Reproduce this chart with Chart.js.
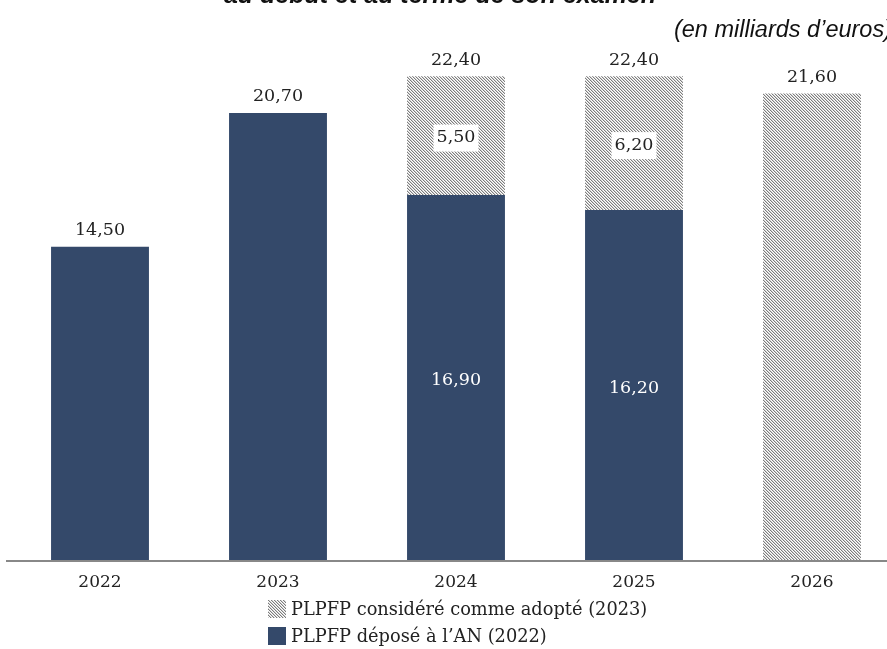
<!DOCTYPE html>
<html>
<head>
<meta charset="utf-8">
<script src="https://cdn.jsdelivr.net/npm/chart.js@4.4.1/dist/chart.umd.min.js"></script>
<style>
  html, body { margin: 0; padding: 0; background: #fff; overflow: hidden; width: 887px; height: 649px; }
  #wrap { position: relative; width: 887px; height: 649px; overflow: hidden; }
  #legende { position: absolute; left: 268px; top: 595px; font-family: "DejaVu Serif", "Liberation Serif", serif; font-size: 17.8px; color: #222; }
  .item { display: flex; align-items: center; height: 27px; }
  .carre { width: 18px; height: 18px; margin-right: 5px; }
</style>
</head>
<body>
<div id="wrap">
  <canvas id="graphique" width="910" height="649"></canvas>
  <div id="legende">
    <div class="item"><canvas class="carre" id="carreHachure" width="18" height="18"></canvas>PLPFP considéré comme adopté (2023)</div>
    <div class="item"><div class="carre" style="background:#34496a"></div>PLPFP déposé à l’AN (2022)</div>
  </div>
</div>
<script>
// Données
const annees = ['2022', '2023', '2024', '2025', '2026'];
const plpfp2022 = [14.50, 20.70, 16.90, 16.20, null];
const plpfp2023 = [null, null, 5.50, 6.20, 21.60];
const totaux = [14.50, 20.70, 22.40, 22.40, 21.60];

const couleurBleu = '#34496a';
const policeSerif = '"DejaVu Serif", "Liberation Serif", serif';

function creerHachure() {
    const c = document.createElement('canvas');
    c.width = 3; c.height = 3;
    const g = c.getContext('2d');
    const img = g.createImageData(3, 3);
    for (let y = 0; y < 3; y++) {
        for (let x = 0; x < 3; x++) {
            const k = ((x - y) % 3 + 3) % 3;
            const v = k === 0 ? 125 : (k === 1 ? 210 : 255);
            const i = (y * 3 + x) * 4;
            img.data[i] = v; img.data[i + 1] = v; img.data[i + 2] = v; img.data[i + 3] = 255;
        }
    }
    g.putImageData(img, 0, 0);
    return c;
}

const motif = creerHachure();

// carré de légende hachuré
(function() {
    const g = document.getElementById('carreHachure').getContext('2d');
    g.fillStyle = g.createPattern(motif, 'repeat');
    g.fillRect(0, 0, 18, 18);
})();

function fmt(v) {
    return v.toFixed(2).replace('.', ',');
}

// Étiquettes de valeurs et titres
const etiquettes = {
    id: 'etiquettes',
    afterDatasetsDraw(chart) {
        const ctx = chart.ctx;
        const x = chart.scales.x;
        const y = chart.scales.y;
        ctx.save();
        ctx.font = '17.5px ' + policeSerif;
        ctx.textAlign = 'center';
        ctx.textBaseline = 'middle';

        annees.forEach(function(a, i) {
            const cx = x.getPixelForValue(i);
            // total au-dessus
            ctx.fillStyle = '#222';
            ctx.fillText(fmt(totaux[i]), cx, y.getPixelForValue(totaux[i]) - 16);

            if (plpfp2022[i] !== null && plpfp2023[i] !== null) {
                // valeur dans la barre bleue
                ctx.fillStyle = '#fff';
                ctx.fillText(fmt(plpfp2022[i]), cx, y.getPixelForValue(plpfp2022[i] / 2) + 3);
                // valeur dans la partie hachurée, sur fond blanc
                const cy = y.getPixelForValue(plpfp2022[i] + plpfp2023[i] / 2) + 2;
                const t = fmt(plpfp2023[i]);
                const w = ctx.measureText(t).width;
                ctx.fillStyle = '#fff';
                ctx.fillRect(cx - w / 2 - 3, cy - 13, w + 6, 27);
                ctx.fillStyle = '#222';
                ctx.fillText(t, cx, cy);
            }
        });

        // titre coupé en haut
        ctx.fillStyle = '#111';
        ctx.textBaseline = 'alphabetic';
        ctx.font = 'bold italic 25px "Liberation Sans", Arial, sans-serif';
        ctx.fillText('au début et au terme de son examen', 440, 3);

        ctx.textAlign = 'right';
        ctx.font = 'italic 23.5px "Liberation Sans", Arial, sans-serif';
        ctx.fillText('(en milliards d’euros)', 892, 37);

        // ligne d'axe
        ctx.strokeStyle = '#888';
        ctx.lineWidth = 2;
        ctx.beginPath();
        ctx.moveTo(6, y.getPixelForValue(0) + 1);
        ctx.lineTo(910, y.getPixelForValue(0) + 1);
        ctx.stroke();
        ctx.restore();
    }
};

const ctx = document.getElementById('graphique').getContext('2d');

new Chart(ctx, {
    type: 'bar',
    data: {
        labels: annees,
        datasets: [{
            label: 'PLPFP déposé à l’AN (2022)',
            data: plpfp2022,
            backgroundColor: couleurBleu,
            borderWidth: 0
        }, {
            label: 'PLPFP considéré comme adopté (2023)',
            data: plpfp2023,
            backgroundColor: ctx.createPattern(motif, 'repeat'),
            borderWidth: 0
        }]
    },
    options: {
        responsive: false,
        animation: false,
        devicePixelRatio: 1,
        layout: {
            padding: { left: 11, right: 9, top: 20, bottom: 49 }
        },
        datasets: {
            bar: { categoryPercentage: 1, barPercentage: 0.55 }
        },
        scales: {
            x: {
                stacked: true,
                grid: { display: false },
                border: { display: false },
                afterFit: function(scale) { scale.height = 40; },
                ticks: {
                    padding: 4,
                    color: '#222',
                    font: { family: policeSerif, size: 17 }
                }
            },
            y: {
                stacked: true,
                display: false,
                min: 0,
                max: 25
            }
        },
        plugins: {
            legend: { display: false },
            tooltip: { enabled: false }
        }
    },
    plugins: [etiquettes]
});
</script>
</body>
</html>
